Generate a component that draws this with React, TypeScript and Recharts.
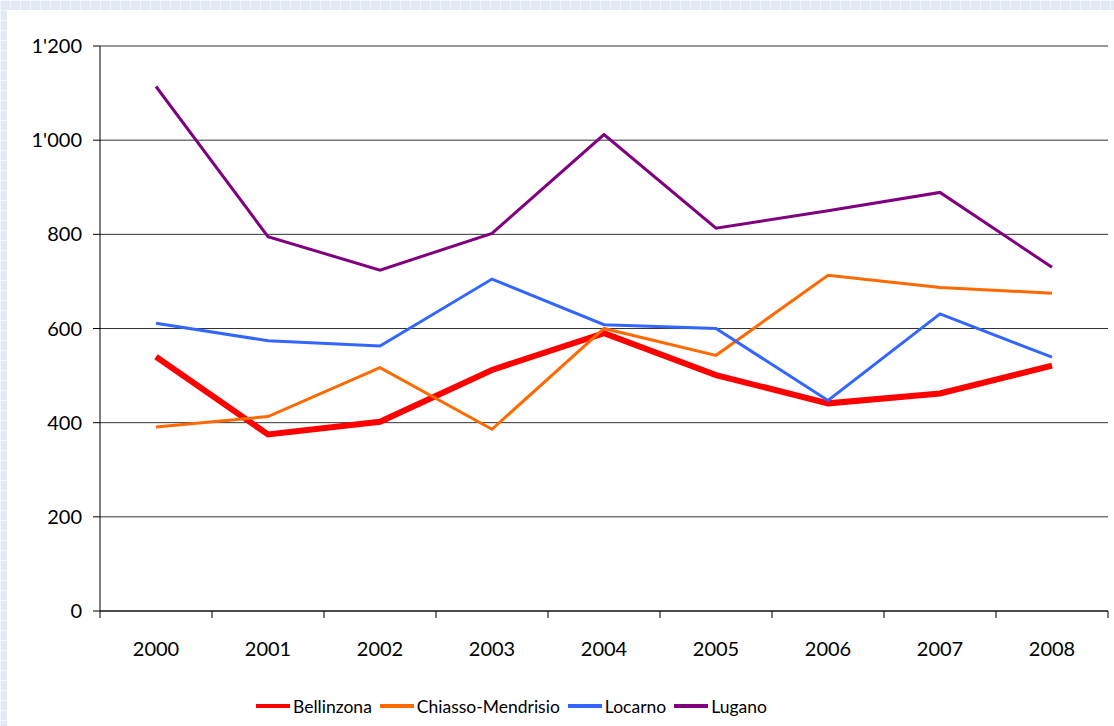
import React from 'react';
import { LineChart, Line, XAxis, YAxis, CartesianGrid, Legend } from 'recharts';

const years = ['2000', '2001', '2002', '2003', '2004', '2005', '2006', '2007', '2008'];
const bellinzona = [540, 375, 402, 512, 590, 501, 441, 462, 521];
const chiasso = [391, 413, 517, 386, 600, 543, 713, 687, 675];
const locarno = [611, 574, 563, 705, 608, 600, 447, 631, 539];
const lugano = [1114, 795, 724, 802, 1012, 813, 850, 889, 730];
const yTicks = [0, 200, 400, 600, 800, 1000, 1200];

const seriesInfo = [
  { key: 'Bellinzona', color: '#ff0000', width: 6 },
  { key: 'Chiasso-Mendrisio', color: '#ff6a00', width: 3 },
  { key: 'Locarno', color: '#3366ff', width: 3 },
  { key: 'Lugano', color: '#800080', width: 3 },
];

const data = years.map((year, i) => ({
  year,
  Bellinzona: bellinzona[i],
  'Chiasso-Mendrisio': chiasso[i],
  Locarno: locarno[i],
  Lugano: lugano[i],
}));

const W = 1107;
const H = 716;
const MARGIN = { top: 36, right: 6, left: 0, bottom: 8 };
const Y_AXIS_W = 93;
const PLOT_W = W - MARGIN.left - MARGIN.right - Y_AXIS_W;
const FONT = 'Lato, "Open Sans", sans-serif';

const fmt = (v: number) =>
  v >= 1000 ? `${Math.floor(v / 1000)}'${String(v % 1000).padStart(3, '0')}` : String(v);

const XTick = (props: any) => {
  const { x, y, payload, index } = props;
  const band = PLOT_W / years.length;
  return (
    <g>
      <line x1={x - band / 2} x2={x - band / 2} y1={y} y2={y + 7} stroke="#000" />
      {index === years.length - 1 && (
        <line x1={x + band / 2} x2={x + band / 2} y1={y} y2={y + 7} stroke="#000" />
      )}
      <text x={x} y={y + 37} textAnchor="middle" dominantBaseline="central" fill="#000" fontSize={20} fontFamily={FONT}>
        {payload.value}
      </text>
    </g>
  );
};

const renderLegend = () => (
  <div style={{ display: 'flex', justifyContent: 'center', alignItems: 'center', height: 24, paddingRight: 84, fontFamily: FONT, fontSize: 17.5, color: '#000' }}>
    {seriesInfo.map((s) => (
      <div key={s.key} style={{ display: 'flex', alignItems: 'center', marginRight: 8 }}>
        <span style={{ display: 'inline-block', width: 34, height: 4, background: s.color, marginRight: 3 }} />
        <span>{s.key}</span>
      </div>
    ))}
  </div>
);

export default function App() {
  return (
    <div
      style={{
        position: 'fixed',
        inset: 0,
        backgroundColor: '#e2e9f5',
        backgroundImage:
          'linear-gradient(rgba(255,255,255,0.55) 1px, transparent 1px), linear-gradient(90deg, rgba(255,255,255,0.55) 1px, transparent 1px)',
        backgroundSize: '10px 10px',
      }}
    >
      <div style={{ position: 'absolute', left: 7, top: 10, width: W, height: H, background: '#fff' }}>
        <LineChart width={W} height={H} data={data} margin={MARGIN}>
          <CartesianGrid vertical={false} stroke="#333" strokeWidth={1} />
          <XAxis
            dataKey="year"
            scale="band"
            axisLine={{ stroke: '#000' }}
            tickLine={false}
            tickSize={0}
            tickMargin={0}
            tick={<XTick />}
            interval={0}
            height={83}
          />
          <YAxis
            domain={[0, 1200]}
            ticks={yTicks}
            tickFormatter={fmt}
            width={Y_AXIS_W}
            axisLine={{ stroke: '#000' }}
            tickLine={{ stroke: '#000' }}
            tickSize={7}
            tickMargin={11}
            tick={{ fill: '#000', fontSize: 20, fontFamily: FONT }}
          />
          <Legend verticalAlign="bottom" content={renderLegend} />
          {seriesInfo.map((s) => (
            <Line
              key={s.key}
              type="linear"
              dataKey={s.key}
              stroke={s.color}
              strokeWidth={s.width}
              dot={false}
              activeDot={false}
              isAnimationActive={false}
            />
          ))}
        </LineChart>
      </div>
    </div>
  );
}
